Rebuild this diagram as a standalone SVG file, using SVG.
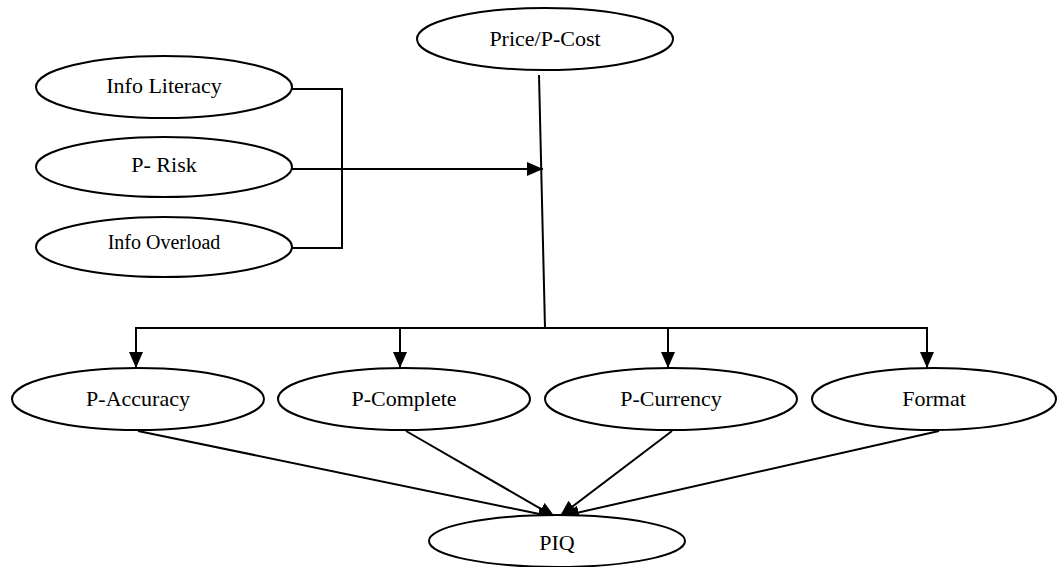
<svg xmlns="http://www.w3.org/2000/svg" width="1058" height="567" viewBox="0 0 1058 567">
  <style>
    .node ellipse { fill: #ffffff; stroke: #000000; stroke-width: 2; }
    .node text { font-family: "Liberation Serif", "Times New Roman", serif; font-size: 22px; fill: #000000; text-anchor: middle; }
    .node text.small { font-size: 20px; }
    .conn line, .conn polyline { stroke: #000000; stroke-width: 2; fill: none; }
  </style>
  <defs>
    <marker id="arrow" markerUnits="userSpaceOnUse" markerWidth="16" markerHeight="14" viewBox="0 0 16 14" refX="16" refY="7" orient="auto">
      <path d="M0,0 L16,7 L0,14 Z" fill="#000000"/>
    </marker>
  </defs>

  <g class="conn" id="connectors">
    <polyline points="291,89 342,89 342,248 291,248"/>
    <line x1="291" y1="169" x2="543" y2="169" marker-end="url(#arrow)"/>
    <line x1="539" y1="75" x2="545" y2="328"/>
    <polyline points="136,328 927,328"/>
    <line x1="136" y1="327" x2="136" y2="368" marker-end="url(#arrow)"/>
    <line x1="400" y1="327" x2="400" y2="368" marker-end="url(#arrow)"/>
    <line x1="668" y1="327" x2="668" y2="368" marker-end="url(#arrow)"/>
    <line x1="927" y1="327" x2="927" y2="368" marker-end="url(#arrow)"/>
    <line x1="138" y1="431" x2="554" y2="517" marker-end="url(#arrow)"/>
    <line x1="406" y1="431" x2="555" y2="517" marker-end="url(#arrow)"/>
    <line x1="672" y1="431" x2="560" y2="516" marker-end="url(#arrow)"/>
    <line x1="939" y1="431" x2="563" y2="516" marker-end="url(#arrow)"/>
  </g>

  <g class="node" id="price-cost">
    <ellipse cx="545" cy="39" rx="128" ry="31"/>
    <text x="545" y="46">Price/P-Cost</text>
  </g>
  <g class="node" id="info-literacy">
    <ellipse cx="164" cy="87" rx="128" ry="31"/>
    <text x="164" y="93">Info Literacy</text>
  </g>
  <g class="node" id="p-risk">
    <ellipse cx="164" cy="167" rx="128" ry="30"/>
    <text x="164" y="172">P- Risk</text>
  </g>
  <g class="node" id="info-overload">
    <ellipse cx="164" cy="247" rx="128" ry="30"/>
    <text class="small" x="164" y="249">Info Overload</text>
  </g>
  <g class="node" id="p-accuracy">
    <ellipse cx="138" cy="399" rx="126" ry="31"/>
    <text x="138" y="406">P-Accuracy</text>
  </g>
  <g class="node" id="p-complete">
    <ellipse cx="404" cy="399" rx="126" ry="31"/>
    <text x="404" y="406">P-Complete</text>
  </g>
  <g class="node" id="p-currency">
    <ellipse cx="671" cy="399" rx="126" ry="31"/>
    <text x="671" y="406">P-Currency</text>
  </g>
  <g class="node" id="format">
    <ellipse cx="934" cy="399" rx="122" ry="31"/>
    <text x="934" y="406">Format</text>
  </g>
  <g class="node" id="piq">
    <ellipse cx="557" cy="541" rx="128" ry="26"/>
    <text x="557" y="550">PIQ</text>
  </g>
</svg>
